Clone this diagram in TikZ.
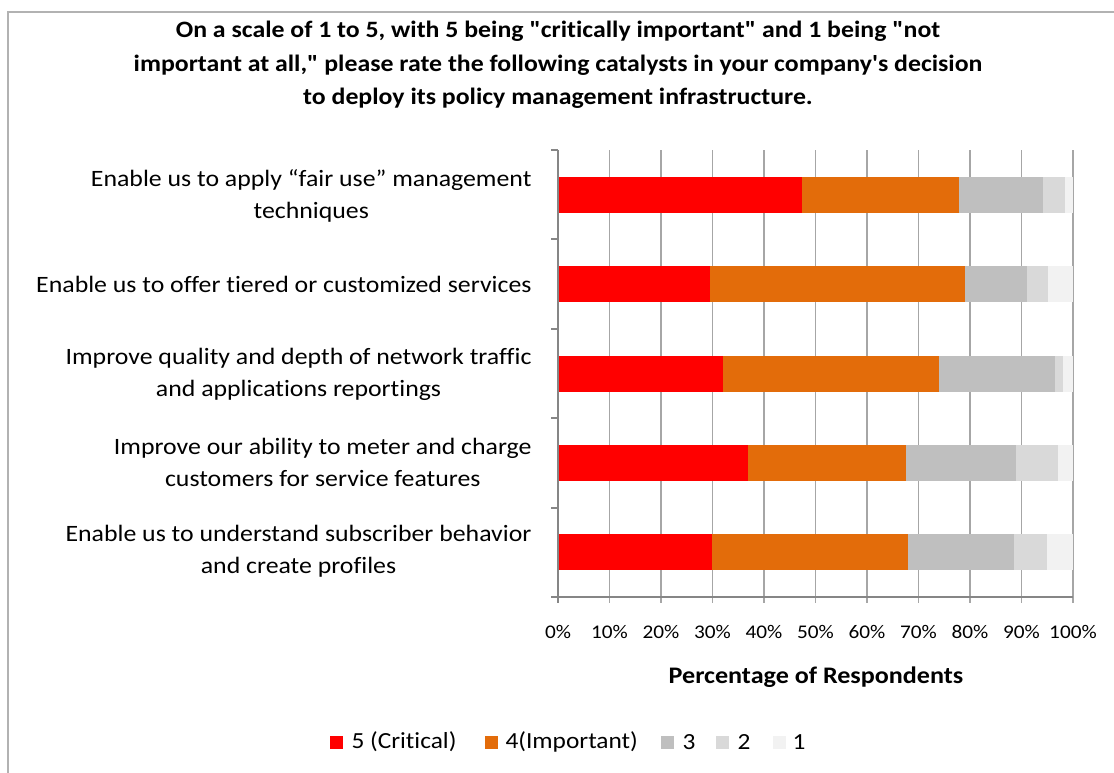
\documentclass[tikz,border=0pt]{standalone}
\usepackage{fontspec}
\setmainfont{Carlito}[Ligatures={TeXOff,NoCommon},FakeStretch=1.1]
\definecolor{crit}{RGB}{255,0,0}
\definecolor{imp}{RGB}{227,108,10}
\definecolor{three}{RGB}{191,191,191}
\definecolor{two}{RGB}{217,217,217}
\definecolor{one}{RGB}{242,242,242}
\definecolor{gridgray}{RGB}{166,166,166}
\definecolor{axisgray}{RGB}{134,134,134}
\definecolor{framegray}{RGB}{178,178,178}
\tikzset{every picture/.style={line width=0.75pt}}

\begin{document}
\begin{tikzpicture}[x=0.75pt,y=0.75pt,yscale=-1,xscale=1,
	catlabel/.style={anchor=east,align=center,inner sep=0pt,font=\fontsize{17.6}{24}\selectfont},
	ticklabel/.style={inner sep=0pt,font=\fontsize{14.5}{16}\selectfont},
	legtext/.style={anchor=west,inner sep=0pt,font=\fontsize{17.3}{20}\selectfont},
	keybox/.style={minimum size=9.75pt,inner sep=0pt}]
	\useasboundingbox (0,0) rectangle (1114,772);

	%Frame
	\draw [framegray, line width=1.5pt] (8,780) -- (8,12) -- (1120,12) ;

	% Text Node
	\node [align=center,font=\bfseries\fontsize{17.6}{25}\selectfont] (title) at (558,65) {On a scale of 1 to 5, with 5 being "critically important" and 1 being "not\\important at all," please rate the following catalysts in your company's decision\\to deploy its policy management infrastructure.};

	%Grid Lines
	\draw [gridgray, line width=1.1pt] (609.5,150) -- (609.5,603) ;
	\draw [gridgray, line width=1.1pt] (661,150) -- (661,603) ;
	\draw [gridgray, line width=1.1pt] (712.5,150) -- (712.5,603) ;
	\draw [gridgray, line width=1.1pt] (764,150) -- (764,603) ;
	\draw [gridgray, line width=1.1pt] (815.5,150) -- (815.5,603) ;
	\draw [gridgray, line width=1.1pt] (867,150) -- (867,603) ;
	\draw [gridgray, line width=1.1pt] (918.5,150) -- (918.5,603) ;
	\draw [gridgray, line width=1.1pt] (970,150) -- (970,603) ;
	\draw [gridgray, line width=1.1pt] (1021.5,150) -- (1021.5,603) ;
	\draw [gridgray, line width=1.1pt] (1073,150) -- (1073,603) ;

	%Bars: Enable us to apply fair use
	\fill [crit] (558,176.7) rectangle (801.6,212.7) ;
	\fill [imp] (801.6,176.7) rectangle (959.2,212.7) ;
	\fill [three] (959.2,176.7) rectangle (1043.1,212.7) ;
	\fill [two] (1043.1,176.7) rectangle (1065.3,212.7) ;
	\fill [one] (1065.3,176.7) rectangle (1073,212.7) ;
	%Bars: tiered services
	\fill [crit] (558,266) rectangle (709.9,302) ;
	\fill [imp] (709.9,266) rectangle (964.9,302) ;
	\fill [three] (964.9,266) rectangle (1026.7,302) ;
	\fill [two] (1026.7,266) rectangle (1048.3,302) ;
	\fill [one] (1048.3,266) rectangle (1073,302) ;
	%Bars: quality and depth
	\fill [crit] (558,355.5) rectangle (722.8,391.5) ;
	\fill [imp] (722.8,355.5) rectangle (939.1,391.5) ;
	\fill [three] (939.1,355.5) rectangle (1054.5,391.5) ;
	\fill [two] (1054.5,355.5) rectangle (1063.2,391.5) ;
	\fill [one] (1063.2,355.5) rectangle (1073,391.5) ;
	%Bars: meter and charge
	\fill [crit] (558,444.9) rectangle (747.5,480.9) ;
	\fill [imp] (747.5,444.9) rectangle (906.1,480.9) ;
	\fill [three] (906.1,444.9) rectangle (1015.8,480.9) ;
	\fill [two] (1015.8,444.9) rectangle (1057.6,480.9) ;
	\fill [one] (1057.6,444.9) rectangle (1073,480.9) ;
	%Bars: subscriber behavior
	\fill [crit] (558,534.3) rectangle (712,570.3) ;
	\fill [imp] (712,534.3) rectangle (907.7,570.3) ;
	\fill [three] (907.7,534.3) rectangle (1014.3,570.3) ;
	\fill [two] (1014.3,534.3) rectangle (1047.3,570.3) ;
	\fill [one] (1047.3,534.3) rectangle (1073,570.3) ;

	%Axes
	\draw [axisgray, line width=1.5pt] (558,150) -- (558,603) ;
	\draw [axisgray, line width=1.5pt] (551,597) -- (1073,597) ;
	\draw [axisgray, line width=1.5pt] (551,150) -- (558,150) ;
	\draw [axisgray, line width=1.5pt] (551,239.4) -- (558,239.4) ;
	\draw [axisgray, line width=1.5pt] (551,328.8) -- (558,328.8) ;
	\draw [axisgray, line width=1.5pt] (551,418.2) -- (558,418.2) ;
	\draw [axisgray, line width=1.5pt] (551,507.6) -- (558,507.6) ;

	% Text Node
	\node [catlabel] (cat1) at (532,196) {Enable us to apply “fair use” management\\techniques};
	% Text Node
	\node [catlabel] (cat2) at (532,284) {Enable us to offer tiered or customized services};
	% Text Node
	\node [catlabel] (cat3) at (532,374) {Improve quality and depth of network traffic\\and applications reportings};
	% Text Node
	\node [catlabel] (cat4) at (532,462) {Improve our ability to meter and charge\\customers for service features};
	% Text Node
	\node [catlabel] (cat5) at (532,551) {Enable us to understand subscriber behavior\\and create profiles};

	% Text Node
	\node [ticklabel] (p0) at (558,632) {0\%};
	\node [ticklabel] (p10) at (609.5,632) {10\%};
	\node [ticklabel] (p20) at (661,632) {20\%};
	\node [ticklabel] (p30) at (712.5,632) {30\%};
	\node [ticklabel] (p40) at (764,632) {40\%};
	\node [ticklabel] (p50) at (815.5,632) {50\%};
	\node [ticklabel] (p60) at (867,632) {60\%};
	\node [ticklabel] (p70) at (918.5,632) {70\%};
	\node [ticklabel] (p80) at (970,632) {80\%};
	\node [ticklabel] (p90) at (1021.5,632) {90\%};
	\node [ticklabel] (p100) at (1073,632) {100\%};
	% Text Node
	\node [font=\bfseries\fontsize{17.8}{20}\selectfont] (xtitle) at (816,677) {Percentage of Respondents};

	%Legend
	\node [keybox, fill=crit] (k5) at (336.5,742.5) {};
	\node [legtext] (l5) at (351,742) {5 (Critical)};
	\node [keybox, fill=imp] (k4) at (491.5,742.5) {};
	\node [legtext] (l4) at (505,742) {4(Important)};
	\node [keybox, fill=three] (k3) at (667.5,742.5) {};
	\node [legtext] (l3) at (682,742) {3};
	\node [keybox, fill=two] (k2) at (722.5,742.5) {};
	\node [legtext] (l2) at (737,742) {2};
	\node [keybox, fill=one] (k1) at (779.5,742.5) {};
	\node [legtext] (l1) at (792,742) {1};

\end{tikzpicture}
\end{document}
